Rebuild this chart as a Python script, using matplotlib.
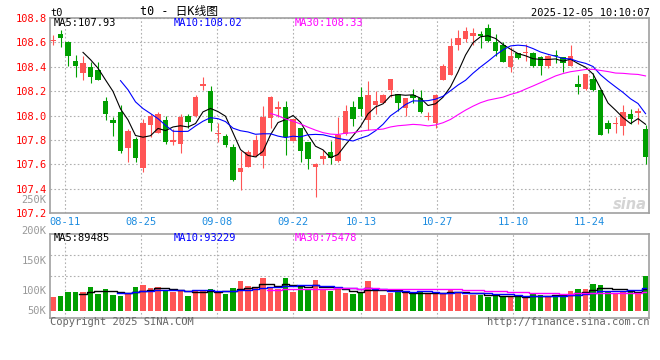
import matplotlib
matplotlib.use("Agg")
import matplotlib.pyplot as plt
import numpy as np
import pandas as pd

# ── Data (daily candles 08-07 .. 12-04) ───────────────────────────────────────

opens = [
    108.61, 108.67, 108.60, 108.45, 108.35, 108.40, 108.37, 108.12, 107.96, 108.03,
    107.73, 107.81, 107.57, 107.92, 107.86, 107.96, 107.78, 107.77, 108.00, 108.00,
    108.24, 108.20, 107.85, 107.83, 107.74, 107.54, 107.58, 107.67, 107.67, 107.98,
    108.05, 108.07, 107.79, 107.90, 107.78, 107.58, 107.64, 107.70, 107.63, 107.85,
    108.07, 108.15, 107.96, 108.09, 108.10, 108.21, 108.18, 108.06, 108.17, 108.14,
    107.99, 107.94, 108.29, 108.33, 108.58, 108.63, 108.65, 108.67, 108.72, 108.60,
    108.58, 108.40, 108.51, 108.51, 108.51, 108.48, 108.41, 108.50, 108.48, 108.41,
    108.26, 108.22, 108.30, 108.21, 107.94, 107.93, 107.91, 108.01, 108.02, 107.89,
]
highs = [
    108.66, 108.70, 108.61, 108.50, 108.49, 108.44, 108.44, 108.15, 107.99, 108.09,
    107.89, 107.82, 107.97, 108.01, 108.03, 108.00, 107.89, 108.01, 108.01, 108.17,
    108.32, 108.24, 107.94, 107.85, 107.77, 107.71, 107.72, 107.84, 108.08, 108.16,
    108.12, 108.12, 107.97, 107.90, 107.78, 107.61, 107.72, 107.79, 107.99, 108.09,
    108.12, 108.23, 108.28, 108.20, 108.18, 108.30, 108.18, 108.14, 108.22, 108.21,
    108.03, 108.18, 108.42, 108.64, 108.70, 108.73, 108.72, 108.69, 108.75, 108.67,
    108.60, 108.56, 108.51, 108.59, 108.52, 108.49, 108.50, 108.54, 108.48, 108.58,
    108.33, 108.34, 108.35, 108.21, 107.96, 107.99, 108.09, 108.05, 108.06, 107.92,
]
lows = [
    108.58, 108.56, 108.41, 108.32, 108.29, 108.27, 108.29, 107.96, 107.83, 107.69,
    107.62, 107.62, 107.54, 107.82, 107.86, 107.77, 107.76, 107.69, 107.90, 107.99,
    108.21, 107.87, 107.78, 107.74, 107.46, 107.39, 107.58, 107.66, 107.57, 107.90,
    107.99, 107.68, 107.79, 107.62, 107.56, 107.33, 107.60, 107.60, 107.62, 107.84,
    107.91, 108.00, 107.88, 108.01, 108.10, 108.15, 108.04, 108.00, 108.10, 108.02,
    107.96, 107.90, 108.29, 108.33, 108.54, 108.60, 108.58, 108.55, 108.60, 108.49,
    108.44, 108.36, 108.46, 108.45, 108.40, 108.33, 108.39, 108.43, 108.36, 108.41,
    108.18, 108.21, 108.20, 107.84, 107.86, 107.86, 107.84, 107.93, 107.93, 107.60,
]
closes = [
    108.62, 108.64, 108.49, 108.41, 108.43, 108.32, 108.29, 108.01, 107.94, 107.71,
    107.87, 107.65, 107.94, 108.00, 108.01, 107.78, 107.80, 107.99, 107.95, 108.15,
    108.26, 107.94, 107.86, 107.76, 107.47, 107.57, 107.70, 107.80, 107.99, 108.15,
    108.07, 107.82, 107.97, 107.71, 107.64, 107.60, 107.67, 107.65, 107.84, 108.04,
    107.97, 108.05, 108.17, 108.12, 108.17, 108.30, 108.10, 108.14, 108.14, 108.03,
    108.00, 108.17, 108.41, 108.57, 108.64, 108.69, 108.68, 108.65, 108.61, 108.53,
    108.44, 108.49, 108.47, 108.52, 108.41, 108.41, 108.49, 108.49, 108.43, 108.49,
    108.23, 108.34, 108.21, 107.84, 107.89, 107.94, 108.03, 107.97, 108.04, 107.66,
]
# volume in thousands of lots
vol_k = [
    56.7, 60.9, 77.4, 77.4, 77.4, 98.1, 69.1, 89.8, 65.0, 60.9,
    73.3, 98.1, 106.4, 94.0, 98.1, 81.6, 77.4, 81.6, 60.9, 85.7,
    81.6, 89.8, 77.4, 69.1, 94.0, 123.0, 102.3, 94.0, 135.4, 98.1,
    89.8, 135.4, 77.4, 106.4, 89.8, 127.1, 85.7, 82.8, 88.6, 73.3,
    69.1, 78.7, 123.0, 88.6, 65.0, 73.3, 80.3, 73.3, 67.9, 76.2,
    69.1, 77.4, 73.3, 89.8, 73.3, 66.2, 66.2, 66.2, 58.0, 60.9,
    58.0, 62.1, 55.5, 56.7, 69.1, 66.2, 62.1, 63.8, 60.9, 81.6,
    89.8, 89.8, 110.5, 106.4, 76.2, 69.1, 82.8, 76.2, 78.7, 144.9,
]

tick_idx    = [2, 12, 22, 32, 41, 51, 61, 71]
tick_labels = ["08-11", "08-25", "09-08", "09-22", "10-13", "10-27", "11-10", "11-24"]
price_ticks = [107.2, 107.4, 107.6, 107.8, 108.0, 108.2, 108.4, 108.6, 108.8]

# ── Style ─────────────────────────────────────────────────────────────────────

W, H = 660, 360
RED, GREEN = "#ff5555", "#009f00"
MA_COLORS = {5: "#000000", 10: "#0000ff", 30: "#ff00ff"}
GRID = dict(color="#b0b0b0", lw=0.8, ls=(0, (1.5, 2)))
plt.rcParams["font.family"] = ["DejaVu Sans Mono", "Noto Sans CJK SC"]
plt.rcParams["font.size"] = 7.5


def fx(px):
    return px / W


def fy(py):
    return 1 - py / H


fig = plt.figure(figsize=(6.6, 3.6), dpi=100)
ax = fig.add_axes([fx(50), fy(213), (649.3 - 50) / W, (213 - 18) / H])
axv = fig.add_axes([fx(50), fy(318.3), (649.3 - 50) / W, (318.3 - 234.3) / H])

n = len(closes)
x = np.arange(n)
o, h, l, c = (np.array(a) for a in (opens, highs, lows, closes))
cols = np.where(c >= o, RED, GREEN)

# sina draws its date grid at a slightly wider pitch than the candles
grid_x = [2 + (i - 2) * 7.6 / 7.5 - 0.44 for i in tick_idx]

# ── Candles + MAs ─────────────────────────────────────────────────────────────
ax.vlines(x, l, h, colors=cols, lw=0.8, zorder=2)
body = np.maximum(np.abs(c - o), 0.009)
ax.bar(x, body, bottom=np.minimum(o, c), width=0.76, color=cols, lw=0, zorder=3)

s = pd.Series(closes)
for win, col in MA_COLORS.items():
    ax.plot(x, s.rolling(win).mean(), color=col, lw=0.8, zorder=4)

ax.set_xlim(-0.4, 79.5)
ax.set_ylim(107.2, 108.8)
ax.set_yticks(price_ticks, [f"{v:.1f}" for v in price_ticks])
ax.set_xticks(grid_x, tick_labels)
ax.tick_params(axis="y", length=0, pad=2.5, labelcolor="#ff0000")
ax.tick_params(axis="x", length=0, pad=3, labelcolor="#1c8ce0")
ax.grid(True, **GRID)
ax.set_axisbelow(True)

# ── Volume ────────────────────────────────────────────────────────────────────
axv.bar(x, vol_k, width=0.76, color=cols, lw=0, zorder=2)
v = pd.Series(vol_k)
for win, col in MA_COLORS.items():
    axv.plot(x, v.rolling(win).mean(), color=col, lw=1.0, drawstyle="steps-mid", zorder=3)

vlo, vhi = -31.5, 316.3
axv.set_xlim(-0.4, 79.5)
axv.set_ylim(vlo, vhi)
axv.set_xticks(grid_x, [])
axv.set_yticks([vhi - 0.25 * (vhi - vlo), vhi - 0.5 * (vhi - vlo)], [])
axv.tick_params(length=0)
axv.grid(True, **GRID)
axv.set_axisbelow(True)

for a in (ax, axv):
    for sp in a.spines.values():
        sp.set_color("#a0a0a0")
        sp.set_linewidth(1.2)
        sp.set_zorder(5)

# ── Texts ─────────────────────────────────────────────────────────────────────
fig.text(fx(50), fy(15.7), "t0", va="baseline")
fig.text(fx(140), fy(15.3), "t0 - 日K线图", size=8.5, va="baseline")
fig.text(fx(649.3), fy(16), "2025-12-05 10:10:07", ha="right", va="baseline")

for lx, txt, col in ((54, "MA5:107.93", "#000000"), (174, "MA10:108.02", "#0000ff"),
                     (295, "MA30:108.33", "#ff00ff")):
    fig.text(fx(lx), fy(26.5), txt, color=col, va="baseline")
for lx, txt, col in ((54, "MA5:89485", "#000000"), (174, "MA10:93229", "#0000ff"),
                     (295, "MA30:75478", "#ff00ff")):
    fig.text(fx(lx), fy(241), txt, color=col, va="baseline")

for py, txt in ((203.3, "250K"), (234, "200K"), (264, "150K"), (294, "100K"), (314, "50K")):
    fig.text(fx(46.5), fy(py), txt, ha="right", va="baseline", color="#999999")

fig.text(fx(50), fy(325), "Copyright 2025 SINA.COM", va="baseline", color="#666666")
fig.text(fx(649.3), fy(325), "http://finance.sina.com.cn", ha="right", va="baseline",
         color="#666666")
fig.text(fx(647), fy(209), "sina", ha="right", va="baseline", family="DejaVu Sans",
         style="italic", weight="bold", size=10.5, color="#d4d4d4")

fig.savefig("out.png", dpi=100, facecolor="white")
